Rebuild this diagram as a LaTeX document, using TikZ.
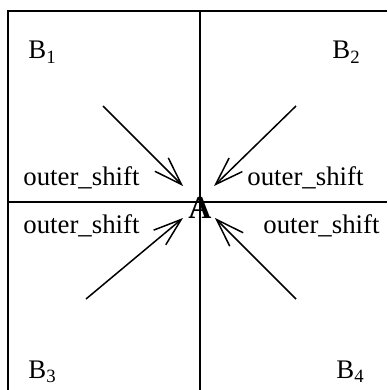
\documentclass[tikz,border=0pt]{standalone}
\usepackage{fontspec}
\setmainfont{Liberation Serif}
\usetikzlibrary{arrows.meta}

\begin{document}
\begin{tikzpicture}[
  x=0.5pt, y=-0.5pt,
  every node/.style={font=\fontsize{13.4}{16}\selectfont, inner sep=0pt},
  lbl/.style    ={anchor=base west},
  centre/.style ={anchor=base, font=\fontsize{16}{19}\selectfont\bfseries},
  frame/.style  ={line width=0.75pt},
  shiftarrow/.style={line width=0.75pt, -{Straight Barb[length=14pt, width=9.5pt]}}
]
\useasboundingbox (0,0) rectangle (387,390);

%% Frame and the two axes
\draw[frame] (8,390) -- (8,11) -- (387,11);
\draw[frame] (200,11) -- (200,390);
\draw[frame] (8,202) -- (387,202);

%% Blocks
\node[lbl] (b1) at (28,59)  {B\textsubscript{1}};
\node[lbl] (b2) at (332,59) {B\textsubscript{2}};
\node[lbl] (b3) at (28,378) {B\textsubscript{3}};
\node[lbl] (b4) at (336,378){B\textsubscript{4}};

%% Centre point
\node[centre] (a) at (200,218) {A};

%% Shift labels
\node[lbl] (s1) at (23,185)  {outer\_shift};
\node[lbl] (s2) at (247,185) {outer\_shift};
\node[lbl] (s3) at (23,233)  {outer\_shift};
\node[lbl] (s4) at (263,233) {outer\_shift};

%% Arrow ends
\coordinate (tl0) at (103,106); \coordinate (tl1) at (183,186);
\coordinate (tr0) at (296,106); \coordinate (tr1) at (214,186);
\coordinate (bl0) at (86,299);  \coordinate (bl1) at (183,218);
\coordinate (br0) at (296,299); \coordinate (br1) at (215,218);

%% Shifts towards A
\foreach \s in {tl,tr,bl,br}{
  \draw[shiftarrow] (\s0) -- (\s1);
}

\end{tikzpicture}
\end{document}
